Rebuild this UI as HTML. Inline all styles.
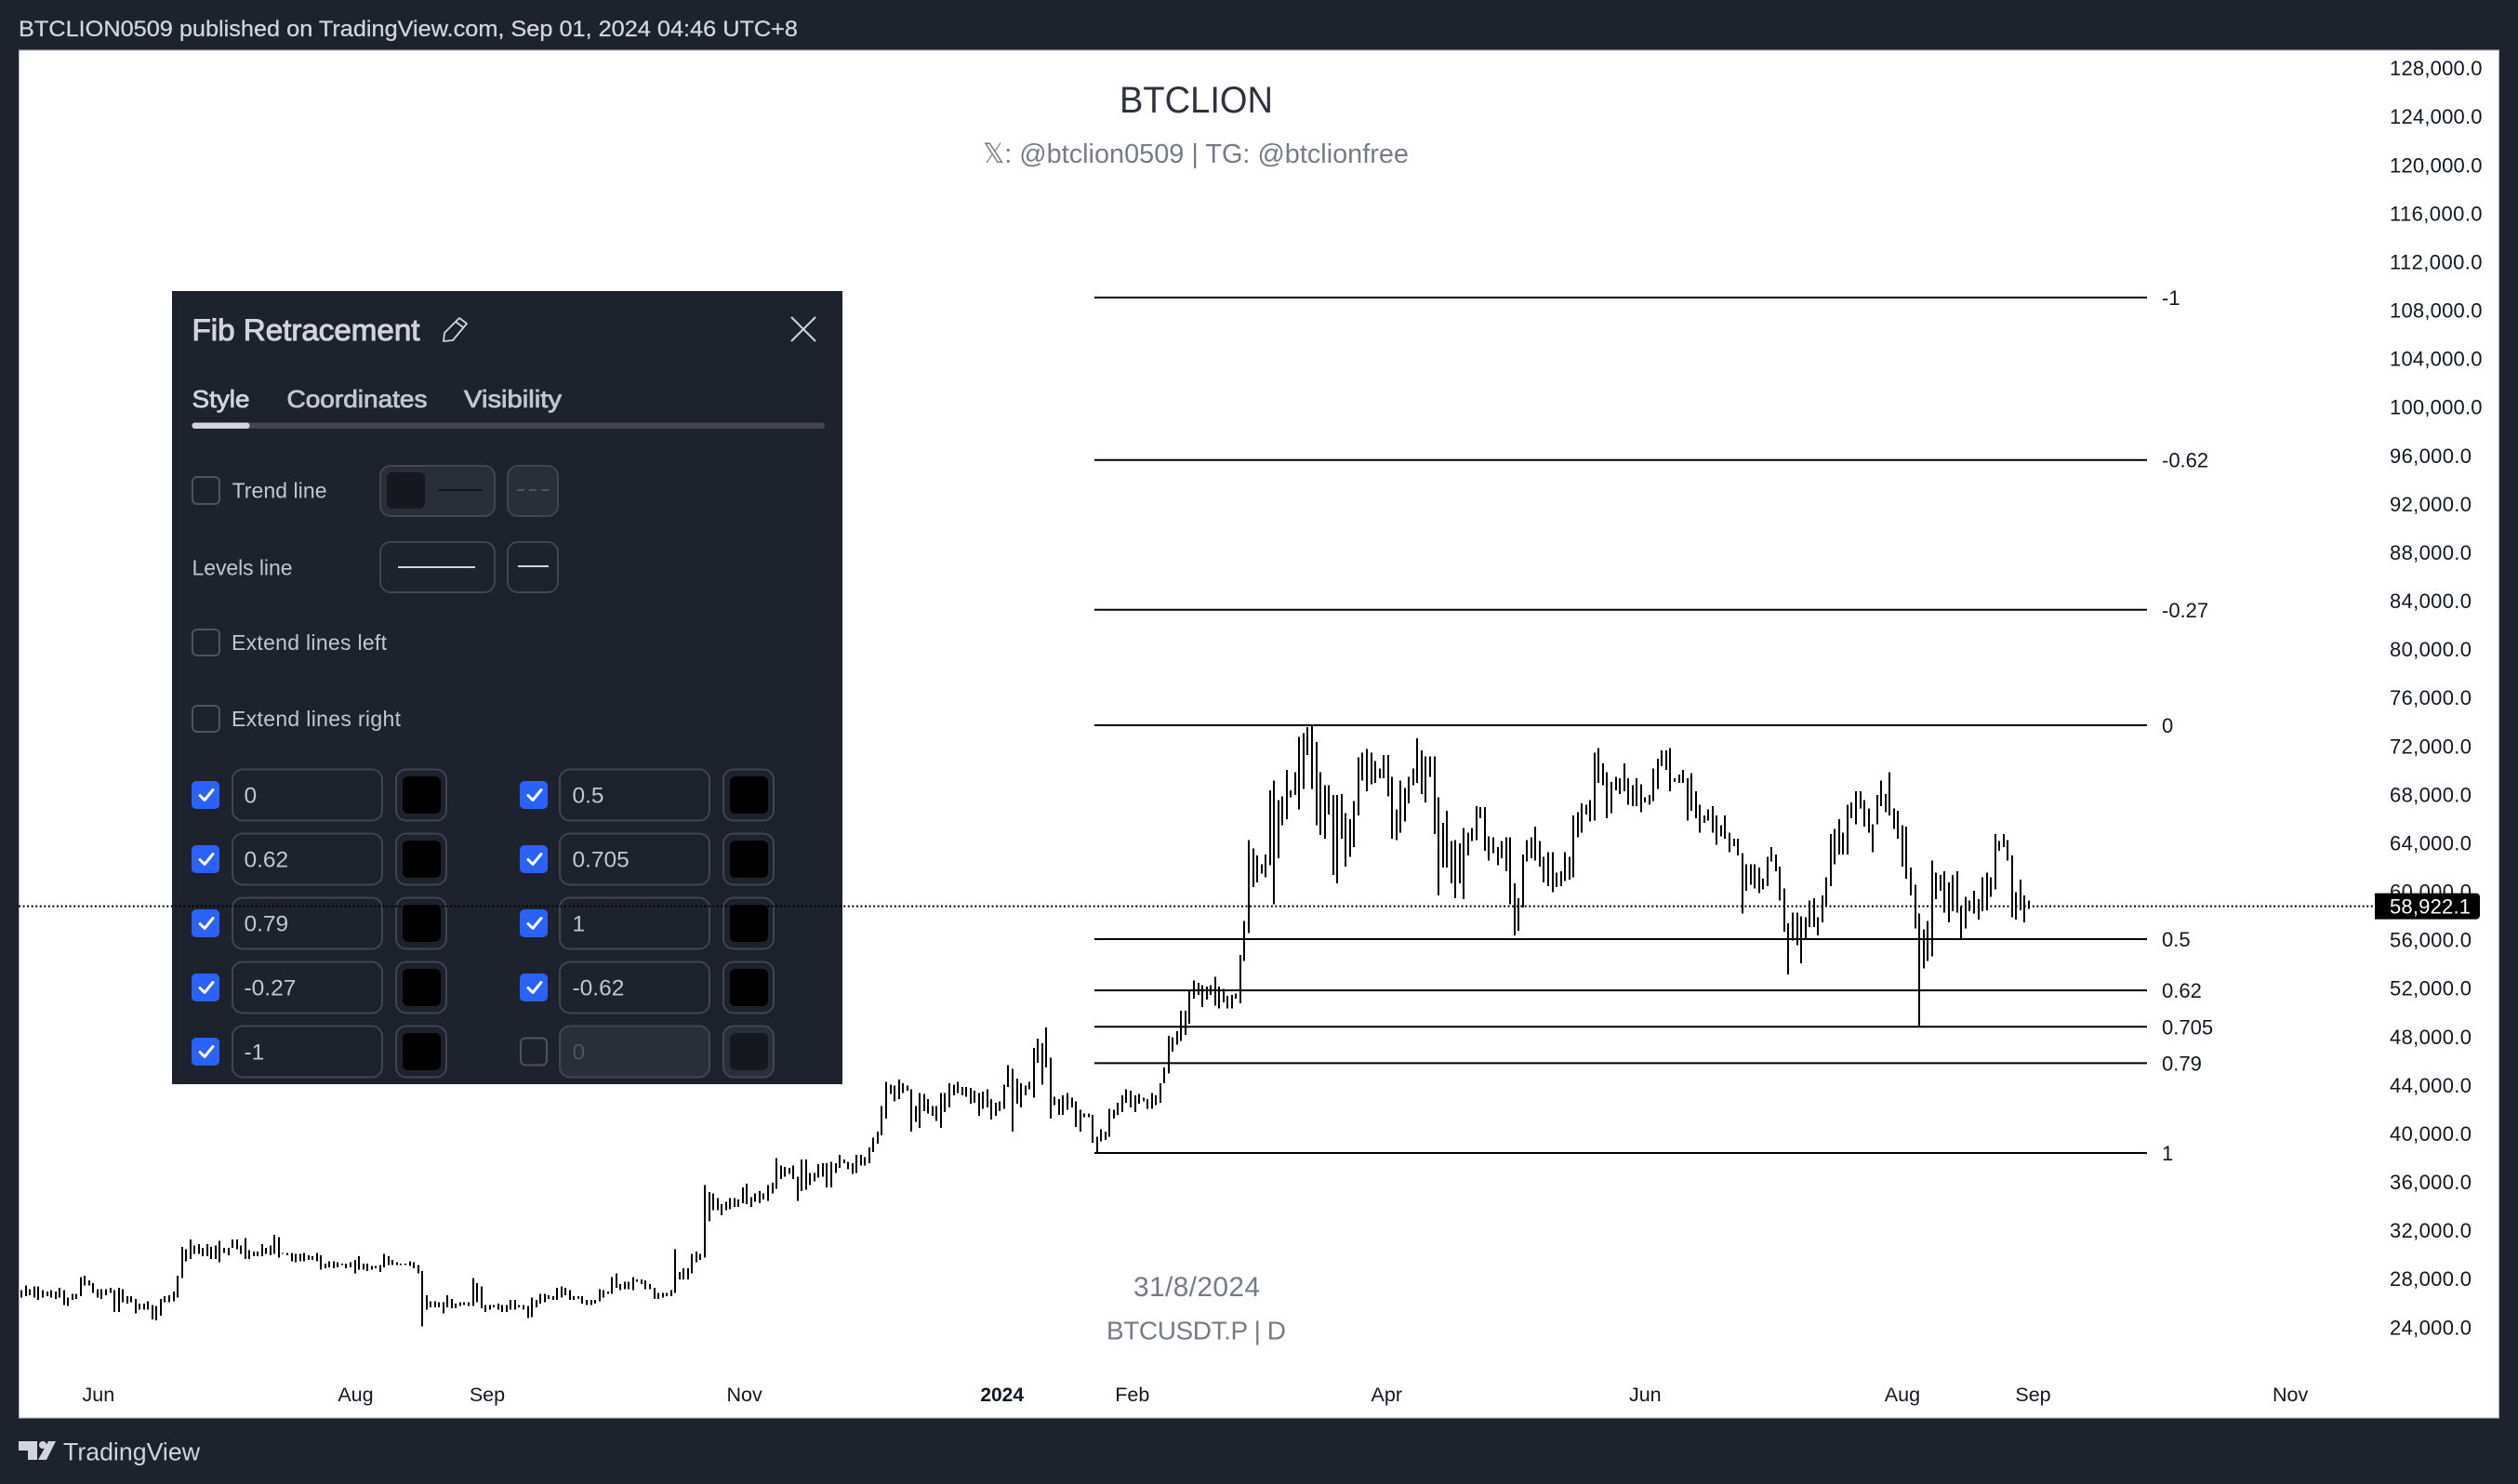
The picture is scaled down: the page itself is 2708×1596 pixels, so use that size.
<!DOCTYPE html>
<html lang="en">
<head>
<meta charset="utf-8">
<title>BTCUSDT.P Fib Retracement chart</title>
<style>
html,body{margin:0;padding:0;background:#1e222d;width:2708px;height:1596px;overflow:hidden}
svg{display:block}
text{font-family:"Liberation Sans","DejaVu Sans",sans-serif}
.lbl{font-size:23px;fill:#c3c6ce}
.val{font-size:24.5px;fill:#c3c6ce}
.box{fill:none;stroke:#434651;stroke-width:2}
.sw{fill:#1e222d;stroke:#434651;stroke-width:2}
.chk{fill:#2962ff}
.tick{fill:none;stroke:#fff;stroke-width:3;stroke-linecap:round;stroke-linejoin:round}
.un{fill:none;stroke:#50535e;stroke-width:2}
</style>
</head>
<body>
<svg id="chart" xmlns="http://www.w3.org/2000/svg" width="2708" height="1596" viewBox="0 0 2708 1596">
  <rect x="0" y="0" width="2708" height="1596" fill="#1e222d"/>
  <text x="20" y="39" font-size="24.5" fill="#d1d4dc" stroke="#d1d4dc" stroke-width=".3" textLength="838" lengthAdjust="spacingAndGlyphs">BTCLION0509 published on TradingView.com, Sep 01, 2024 04:46 UTC+8</text>
  <rect x="20.5" y="54" width="2667" height="1471" fill="#ffffff" stroke="#b2b5be" stroke-width="1"/>

  <text x="1286.5" y="121" font-size="40" fill="#2f323c" text-anchor="middle" textLength="165" lengthAdjust="spacingAndGlyphs">BTCLION</text>
  <text x="1286" y="175" font-size="29" fill="#787b86" text-anchor="middle" textLength="458" lengthAdjust="spacingAndGlyphs">𝕏: @btclion0509 | TG: @btclionfree</text>
  <text x="1287" y="1394" font-size="30" fill="#787b86" text-anchor="middle" textLength="136">31/8/2024</text>
  <text x="1286.5" y="1440.5" font-size="28" fill="#787b86" text-anchor="middle" textLength="193">BTCUSDT.P | D</text>

  <g id="candles" shape-rendering="crispEdges"></g>
  <g id="fibs"></g>
  <g id="yaxis"></g>
  <g id="xaxis"></g>

  <g>
    <rect x="185" y="313" width="721" height="853" fill="#1e222d"/>
    <text x="206.5" y="366" font-size="32" fill="#d1d4dc" stroke="#d1d4dc" stroke-width="1" textLength="245" lengthAdjust="spacingAndGlyphs">Fib Retracement</text>
    <g fill="none" stroke="#d1d4dc" stroke-width="1.8" stroke-linejoin="round">
      <path d="M494 342l8 6-15 18-10 1 1-9z"/><path d="M490 346l8 6"/>
    </g>
    <g stroke="#d1d4dc" stroke-width="2">
      <line x1="851" y1="341" x2="877" y2="367"/><line x1="877" y1="341" x2="851" y2="367"/>
    </g>
    <text x="206.5" y="438" font-size="26" fill="#d1d4dc" stroke="#d1d4dc" stroke-width=".8" textLength="62" lengthAdjust="spacingAndGlyphs">Style</text>
    <text x="308.5" y="438" font-size="26" fill="#c3c6ce" stroke="#c3c6ce" stroke-width=".8" textLength="151" lengthAdjust="spacingAndGlyphs">Coordinates</text>
    <text x="499" y="438" font-size="26" fill="#c3c6ce" stroke="#c3c6ce" stroke-width=".8" textLength="105" lengthAdjust="spacingAndGlyphs">Visibility</text>
    <rect x="206.5" y="454.5" width="680.5" height="6.5" rx="3" fill="#434651"/>
    <rect x="206.5" y="454.5" width="62" height="6.5" rx="3" fill="#d1d4dc"/>

    <rect class="un" x="207" y="513" width="29" height="29" rx="5"/>
    <text class="lbl" x="249.5" y="535.5" textLength="102">Trend line</text>
    <g>
      <rect x="409" y="501" width="123" height="54" rx="11" fill="#2a2e39" stroke="#434651" stroke-width="2"/>
      <rect x="416" y="508" width="41" height="39" rx="6" fill="#16181f"/>
      <line x1="471" y1="527" x2="519" y2="527" stroke="#16181f" stroke-width="2"/>
    </g>
    <g>
      <rect x="546" y="501" width="54" height="54" rx="11" fill="#2a2e39" stroke="#434651" stroke-width="2"/>
      <line x1="556" y1="527" x2="593" y2="527" stroke="#50535e" stroke-width="2" stroke-dasharray="8 5"/>
    </g>

    <text class="lbl" x="206.5" y="618.5" textLength="108">Levels line</text>
    <g>
      <rect class="box" x="409" y="583" width="123" height="54" rx="11"/>
      <line x1="428" y1="610" x2="511" y2="610" stroke="#d1d4dc" stroke-width="2"/>
    </g>
    <g>
      <rect class="box" x="546" y="583" width="54" height="54" rx="11"/>
      <line x1="557" y1="609" x2="590" y2="609" stroke="#d1d4dc" stroke-width="2"/>
    </g>

    <rect class="un" x="207" y="677" width="29" height="28" rx="5"/>
    <text class="lbl" x="249" y="699" textLength="167">Extend lines left</text>
    <rect class="un" x="207" y="759" width="29" height="28" rx="5"/>
    <text class="lbl" x="249" y="781" textLength="182">Extend lines right</text>

    <g transform="translate(0,-1.5)">
    <!-- level rows, left column -->
    <g>
      <rect class="chk" x="206" y="841.5" width="30" height="30" rx="5"/><polyline class="tick" points="215,857 220,862 229,851"/>
      <rect class="box" x="250" y="829" width="161" height="55" rx="11"/><text class="val" x="262.5" y="865">0</text>
      <rect class="sw" x="426" y="829" width="54" height="55" rx="11"/><rect x="433" y="836.5" width="41" height="40" rx="6" fill="#000"/>
    </g>
    <g>
      <rect class="chk" x="206" y="910.5" width="30" height="30" rx="5"/><polyline class="tick" points="215,926 220,931 229,920"/>
      <rect class="box" x="250" y="898" width="161" height="55" rx="11"/><text class="val" x="262.5" y="934">0.62</text>
      <rect class="sw" x="426" y="898" width="54" height="55" rx="11"/><rect x="433" y="905.5" width="41" height="40" rx="6" fill="#000"/>
    </g>
    <g>
      <rect class="chk" x="206" y="979.5" width="30" height="30" rx="5"/><polyline class="tick" points="215,995 220,1000 229,989"/>
      <rect class="box" x="250" y="967" width="161" height="55" rx="11"/><text class="val" x="262.5" y="1003">0.79</text>
      <rect class="sw" x="426" y="967" width="54" height="55" rx="11"/><rect x="433" y="974.5" width="41" height="40" rx="6" fill="#000"/>
    </g>
    <g>
      <rect class="chk" x="206" y="1048.5" width="30" height="30" rx="5"/><polyline class="tick" points="215,1064 220,1069 229,1058"/>
      <rect class="box" x="250" y="1036" width="161" height="55" rx="11"/><text class="val" x="262.5" y="1072">-0.27</text>
      <rect class="sw" x="426" y="1036" width="54" height="55" rx="11"/><rect x="433" y="1043.5" width="41" height="40" rx="6" fill="#000"/>
    </g>
    <g>
      <rect class="chk" x="206" y="1117.5" width="30" height="30" rx="5"/><polyline class="tick" points="215,1133 220,1138 229,1127"/>
      <rect class="box" x="250" y="1105" width="161" height="55" rx="11"/><text class="val" x="262.5" y="1141">-1</text>
      <rect class="sw" x="426" y="1105" width="54" height="55" rx="11"/><rect x="433" y="1112.5" width="41" height="40" rx="6" fill="#000"/>
    </g>
    <!-- level rows, right column -->
    <g>
      <rect class="chk" x="559" y="841.5" width="30" height="30" rx="5"/><polyline class="tick" points="568,857 573,862 582,851"/>
      <rect class="box" x="602" y="829" width="161" height="55" rx="11"/><text class="val" x="615.5" y="865">0.5</text>
      <rect class="sw" x="778" y="829" width="54" height="55" rx="11"/><rect x="785" y="836.5" width="41" height="40" rx="6" fill="#000"/>
    </g>
    <g>
      <rect class="chk" x="559" y="910.5" width="30" height="30" rx="5"/><polyline class="tick" points="568,926 573,931 582,920"/>
      <rect class="box" x="602" y="898" width="161" height="55" rx="11"/><text class="val" x="615.5" y="934">0.705</text>
      <rect class="sw" x="778" y="898" width="54" height="55" rx="11"/><rect x="785" y="905.5" width="41" height="40" rx="6" fill="#000"/>
    </g>
    <g>
      <rect class="chk" x="559" y="979.5" width="30" height="30" rx="5"/><polyline class="tick" points="568,995 573,1000 582,989"/>
      <rect class="box" x="602" y="967" width="161" height="55" rx="11"/><text class="val" x="615.5" y="1003">1</text>
      <rect class="sw" x="778" y="967" width="54" height="55" rx="11"/><rect x="785" y="974.5" width="41" height="40" rx="6" fill="#000"/>
    </g>
    <g>
      <rect class="chk" x="559" y="1048.5" width="30" height="30" rx="5"/><polyline class="tick" points="568,1064 573,1069 582,1058"/>
      <rect class="box" x="602" y="1036" width="161" height="55" rx="11"/><text class="val" x="615.5" y="1072">-0.62</text>
      <rect class="sw" x="778" y="1036" width="54" height="55" rx="11"/><rect x="785" y="1043.5" width="41" height="40" rx="6" fill="#000"/>
    </g>
    <g>
      <rect class="un" x="560" y="1118" width="28" height="29" rx="5"/>
      <rect x="602" y="1105" width="161" height="55" rx="11" fill="#2a2e39" stroke="#434651" stroke-width="2"/><text x="615.5" y="1141" font-size="24.5" fill="#50535e">0</text>
      <rect x="778" y="1105" width="54" height="55" rx="11" fill="#2a2e39" stroke="#434651" stroke-width="2"/><rect x="785" y="1112.5" width="41" height="40" rx="6" fill="#16181f"/>
    </g>
    </g>
  </g>

  <g id="lastprice"></g>

  <g fill="#d1d4dc">
    <path d="M20 1550h20v20h-10v-10h-10z"/>
    <circle cx="46" cy="1554" r="4"/>
    <path d="M52 1550h8l-10 20h-9z"/>
  </g>
  <text x="68" y="1570.5" font-size="27" fill="#d1d4dc" textLength="147" lengthAdjust="spacingAndGlyphs">TradingView</text>
</svg>

<script>
// Daily candles in thousands of USDT (Jun 2023 – 31 Aug 2024)
var highs = [
27.2,27.6,27.3,27.5,27.5,27.2,27.1,27.2,27.1,27.4,
27.2,26.6,26.9,26.9,28.3,28.4,28.0,27.8,27.3,27.3,
27.3,27.4,27.2,27.4,27.3,26.7,26.7,26.5,26.1,26.1,
26.3,26.0,25.9,26.5,26.7,26.8,27.1,28.4,30.8,30.6,
31.4,30.9,31.0,30.7,31.0,30.8,30.9,31.3,30.7,30.7,
31.4,31.4,30.9,31.5,30.5,30.4,30.4,31.0,30.7,30.9,
31.8,31.6,30.3,30.3,30.3,30.2,30.2,30.3,30.1,30.0,
30.3,30.1,29.4,29.6,29.6,29.5,29.4,29.4,29.5,29.7,
30.0,29.4,29.4,29.2,29.2,29.3,30.2,30.0,29.7,29.5,
29.4,29.4,29.6,29.5,29.3,28.8,26.8,26.3,26.3,26.2,
26.2,26.8,26.5,26.1,26.2,26.2,26.2,28.2,27.8,27.5,
26.0,26.0,26.0,26.1,26.0,26.0,26.4,26.4,26.0,26.0,
25.9,26.6,26.4,26.9,26.9,26.8,26.7,27.4,27.5,27.4,
27.2,26.7,26.7,26.7,26.4,26.4,26.4,27.3,27.2,27.1,
28.3,28.6,27.7,27.9,27.9,28.3,28.1,28.1,28.0,27.7,
27.4,27.0,27.0,27.0,27.2,30.6,28.7,29.0,29.0,30.2,
30.4,30.2,35.9,35.3,35.2,34.8,34.3,34.5,34.8,34.8,
34.7,35.7,36.0,34.9,35.2,35.4,35.2,35.9,36.1,38.1,
37.5,37.4,37.3,37.5,36.6,38.0,38.0,36.9,36.9,37.6,
37.7,37.7,37.8,37.7,38.4,38.0,37.8,37.7,38.4,38.4,
38.2,39.0,39.8,40.3,42.4,44.4,44.2,44.1,44.6,44.3,
44.1,43.8,42.4,43.5,43.4,43.0,42.4,42.4,43.5,43.5,
44.3,44.2,44.4,44.0,44.0,43.9,43.7,43.5,43.6,43.8,
43.0,42.7,42.8,44.2,45.8,45.5,44.7,44.3,44.1,44.4,
47.2,48.0,47.6,48.9,46.4,43.2,43.0,43.3,43.5,43.1,
42.8,42.1,41.8,41.8,41.7,39.9,40.5,40.3,42.2,42.1,
42.7,43.3,43.8,43.7,43.3,43.4,43.1,43.0,43.5,43.3,
44.3,45.6,48.2,48.1,48.6,50.3,50.3,52.0,52.8,52.6,
52.4,52.3,52.4,53.1,52.3,52.1,51.5,51.6,51.7,54.9,
57.7,64.4,63.7,63.1,62.4,63.2,68.5,69.3,67.7,68.0,
70.2,68.5,70.0,72.9,73.2,73.7,73.87,72.5,70.0,68.9,
68.9,68.1,68.1,68.2,66.6,66.1,67.6,71.2,71.6,71.9,
71.6,70.9,70.3,71.4,71.4,69.6,66.9,69.3,68.7,69.6,
70.3,72.8,71.8,71.3,71.3,71.3,67.9,65.8,66.8,64.3,
64.4,64.1,65.4,65.0,65.4,67.2,67.1,67.1,64.7,64.6,
63.8,64.3,64.6,64.6,60.8,59.6,63.2,64.4,64.6,65.5,
64.3,63.0,63.4,63.4,61.7,61.8,63.4,63.0,66.4,66.7,
67.4,67.3,67.7,71.6,72.0,70.7,70.0,69.2,69.6,69.5,
70.7,69.5,68.9,69.5,69.0,67.9,68.1,70.3,71.1,71.8,
71.8,72.0,69.5,69.8,70.2,69.5,69.9,68.4,67.3,66.4,
66.9,67.2,66.4,65.6,66.4,65.0,64.5,64.5,63.3,62.4,
62.4,62.4,62.1,61.2,63.0,63.8,63.2,62.2,60.4,57.5,
58.4,58.4,58.1,58.0,59.4,59.6,58.0,59.8,61.3,64.9,
65.3,66.1,65.0,67.3,67.5,68.4,68.4,67.7,67.0,65.7,
68.1,69.3,68.2,70.0,67.0,66.8,65.6,65.5,62.1,60.7,
58.3,57.0,57.7,62.7,61.7,61.5,61.8,60.9,61.5,61.8,
58.9,59.7,59.4,60.2,59.5,61.3,61.7,61.3,64.9,64.3,
64.9,64.4,63.1,60.1,61.1,59.8,59.4];
var opens = [
27.0,27.2,27.2,27.4,27.4,27.0,27.1,27.1,27.0,27.2,
27.1,26.5,26.6,26.8,28.0,28.0,27.8,27.7,27.2,27.2,
27.2,27.2,27.1,27.3,27.3,26.5,26.5,26.5,25.9,25.9,
26.0,25.8,25.6,26.3,26.5,26.5,26.8,28.3,30.0,30.1,
30.7,30.8,30.8,30.5,30.7,30.7,30.7,30.5,30.6,30.7,
31.2,31.2,30.8,30.5,30.3,30.3,30.3,30.4,30.6,30.5,
31.3,31.5,30.3,30.3,30.2,30.1,30.1,30.0,30.0,29.9,
30.0,30.1,29.2,29.4,29.4,29.4,29.4,29.4,29.4,29.6,
29.7,29.3,29.3,29.2,29.2,29.3,29.8,29.7,29.6,29.4,
29.4,29.4,29.5,29.4,29.2,28.7,26.6,26.2,26.2,26.2,
26.1,26.5,26.4,26.1,26.1,26.1,26.1,27.8,27.7,27.3,
25.9,25.8,26.0,26.0,25.9,25.9,26.3,26.4,25.9,25.9,
25.8,25.9,26.2,26.5,26.6,26.6,26.6,27.3,27.2,27.3,
27.1,26.6,26.6,26.6,26.4,26.3,26.4,27.0,27.1,27.0,
27.9,27.9,27.5,27.7,27.7,27.9,28.0,28.0,27.9,27.5,
27.3,26.9,26.9,26.9,27.1,28.5,28.6,28.6,28.7,29.6,
29.8,30.1,33.1,33.9,34.5,34.3,34.2,34.1,34.6,34.6,
34.6,35.3,35.4,34.9,35.1,35.2,35.2,35.3,35.6,36.7,
37.3,37.3,37.2,37.1,36.5,37.9,37.9,36.6,36.7,37.5,
37.5,37.4,37.4,37.5,37.7,37.9,37.7,37.5,37.8,37.9,
38.0,38.7,39.4,40.0,42.0,44.0,44.0,43.7,43.8,44.1,
43.9,43.7,41.5,42.8,43.0,42.9,42.3,42.3,42.7,42.7,
43.6,43.9,44.0,43.9,43.9,43.7,43.5,43.5,43.3,43.4,
42.6,42.2,42.3,44.1,44.9,44.9,44.0,44.1,44.0,44.0,
47.0,47.0,46.6,46.6,46.3,42.8,42.7,42.5,43.0,43.0,
42.8,41.7,41.7,41.7,41.6,39.9,40.1,40.1,41.7,42.0,
42.1,43.2,43.2,42.9,43.0,43.2,43.1,42.9,42.8,42.9,
44.3,45.2,47.0,47.7,48.2,49.9,49.9,51.7,52.0,52.0,
52.1,52.0,52.1,52.2,52.2,52.0,51.3,51.6,51.6,54.4,
57.0,62.4,62.3,62.3,62.3,63.1,68.2,68.2,66.1,66.8,
68.1,68.4,68.9,72.1,72.1,73.1,73.1,71.4,69.5,68.4,
68.4,67.7,67.8,67.8,65.5,63.9,67.2,69.9,70.1,70.0,
70.8,70.8,69.9,71.3,71.3,69.6,65.9,68.5,68.4,68.9,
69.3,71.6,71.7,70.7,70.7,70.0,67.1,65.5,65.5,63.7,
63.7,63.4,63.4,64.9,65.0,66.7,66.7,66.3,64.4,64.4,
63.7,63.3,63.8,63.8,60.6,58.9,62.9,63.8,64.0,63.9,
63.1,62.3,63.1,63.1,60.8,61.4,62.9,63.0,66.2,65.9,
67.0,67.0,66.9,71.4,71.4,70.1,69.2,68.5,69.2,69.2,
69.5,69.5,68.4,68.3,68.3,67.8,67.9,68.8,70.5,71.1,
71.1,70.8,69.4,69.6,69.6,69.5,68.3,68.3,66.7,66.2,
66.6,66.6,66.4,65.1,65.0,64.8,64.3,64.1,63.2,61.7,
61.7,61.6,61.6,60.9,62.7,62.9,62.8,62.0,60.1,57.0,
58.2,58.2,58.1,58.0,58.0,57.7,57.7,59.1,60.7,64.7,
64.9,65.0,64.1,66.6,67.1,68.1,68.1,67.5,65.8,65.7,
67.9,67.9,68.2,68.2,66.7,66.1,65.3,65.3,61.3,60.6,
58.1,56.0,56.0,61.6,61.6,60.9,60.9,59.2,60.5,60.5,
58.6,58.6,59.4,59.4,59.4,59.3,59.3,61.0,63.9,64.2,
64.2,64.3,62.8,59.3,59.2,59.2,59.0];
var closes = [
26.8,26.8,26.8,26.7,26.6,26.8,26.8,26.7,26.7,26.8,
26.3,26.2,26.5,26.6,26.8,27.7,27.7,27.1,26.7,26.8,
26.9,27.1,25.7,25.7,26.4,26.3,26.4,25.7,25.8,25.8,
25.8,25.1,25.0,25.5,26.2,26.3,26.3,26.8,28.2,29.9,
29.8,30.7,30.7,30.1,30.2,30.0,30.0,30.4,30.5,30.6,
30.7,30.7,30.3,29.8,29.8,30.3,30.0,30.0,30.3,30.2,
30.3,30.3,30.2,30.2,30.1,29.7,29.8,29.9,29.8,29.9,
29.8,29.1,29.1,29.2,29.2,29.2,29.3,29.3,29.2,29.1,
29.1,29.1,29.1,29.1,29.1,29.2,29.2,29.4,29.4,29.3,
29.3,29.3,29.3,29.1,28.7,26.5,25.9,25.9,26.1,26.1,
26.0,25.9,25.9,25.9,26.0,26.0,26.0,26.0,27.1,25.9,
25.7,25.8,25.9,25.8,25.8,25.7,25.6,25.7,25.9,25.8,
25.0,25.1,25.8,26.2,26.4,26.5,26.5,26.4,26.7,27.1,
26.5,26.5,26.5,26.2,26.3,26.2,26.2,26.3,26.9,27.0,
26.9,27.5,27.4,27.4,27.4,27.3,27.9,27.9,27.4,27.4,
26.6,26.8,26.8,26.8,26.8,27.1,28.5,28.4,28.3,28.7,
29.5,29.8,29.9,33.0,33.9,34.1,33.8,33.8,34.0,34.5,
34.5,34.6,34.8,34.8,34.7,34.7,35.1,35.1,35.3,35.6,
36.7,37.1,37.1,36.5,35.5,35.5,36.1,36.2,36.5,36.5,
37.4,35.7,35.7,37.4,37.3,37.7,37.5,37.1,37.2,37.8,
37.8,37.7,38.7,39.4,40.0,42.0,43.7,43.2,43.2,43.7,
43.7,41.3,41.3,41.5,42.7,41.9,41.8,41.3,41.3,42.3,
42.3,43.5,43.8,43.7,43.6,42.8,42.8,42.5,42.4,42.5,
42.1,42.1,42.1,42.3,44.1,42.7,42.7,44.0,44.0,43.9,
43.9,46.0,46.0,46.2,42.7,42.7,41.7,41.7,42.5,42.6,
41.3,41.3,41.6,41.6,39.4,39.4,40.0,40.0,39.9,41.7,
42.0,42.0,42.8,42.5,42.5,43.1,42.9,42.4,42.7,42.6,
42.9,44.3,45.2,47.0,47.6,48.1,49.5,49.5,51.7,51.7,
51.6,51.6,51.8,51.7,51.8,51.1,50.6,50.6,51.5,51.6,
54.4,57.0,61.1,61.1,61.9,62.0,63.1,63.7,63.7,66.1,
66.8,68.0,68.3,68.9,71.4,71.4,71.4,69.5,65.2,65.2,
67.6,61.9,61.9,65.5,63.8,63.8,63.9,67.2,70.0,69.5,
69.5,69.8,69.6,69.6,69.6,65.4,65.4,65.9,67.8,67.8,
68.9,69.3,69.1,69.1,70.0,67.1,63.8,63.8,63.3,63.3,
61.1,61.1,61.1,63.7,64.9,64.9,66.3,64.1,64.1,63.7,
63.2,63.0,63.0,60.6,58.3,58.3,58.9,62.9,63.6,63.1,
62.2,61.1,61.1,60.8,60.7,60.8,61.4,61.4,61.4,65.2,
65.1,66.9,66.1,66.1,70.1,69.2,67.9,67.9,68.5,68.5,
68.4,68.4,67.6,67.6,67.6,67.5,67.7,67.7,68.8,70.5,
70.8,69.3,69.3,69.3,69.5,67.2,67.2,66.7,66.1,66.0,
66.4,66.4,65.1,64.7,64.9,64.1,64.1,63.2,60.2,60.2,
60.8,60.7,60.3,60.3,60.8,62.8,62.0,60.1,56.9,56.5,
56.2,55.7,55.7,56.7,57.7,57.2,57.2,57.7,59.1,60.7,
64.5,63.9,63.9,63.9,66.4,67.1,67.5,65.8,65.3,65.3,
65.7,67.8,67.8,67.0,66.1,64.5,64.5,61.3,60.7,58.1,
53.8,53.8,55.0,55.0,60.8,60.8,58.6,58.6,58.6,58.8,
57.4,57.4,58.8,58.8,58.4,58.9,58.8,60.3,60.3,64.0,
64.0,62.8,59.3,58.9,59.0,59.0,58.9];
var lows = [
26.6,26.7,26.8,26.6,26.4,26.6,26.7,26.6,26.5,26.6,
26.0,25.9,26.4,26.5,26.7,27.6,27.6,27.0,26.6,26.5,
26.8,27.0,25.4,25.4,26.2,26.1,26.2,25.3,25.6,25.6,
25.6,24.8,24.7,25.1,26.2,26.2,26.3,26.6,28.2,29.6,
29.8,30.2,30.2,30.0,30.0,29.8,29.8,29.5,30.3,30.1,
30.7,30.6,30.2,29.8,29.8,30.0,30.0,30.0,30.2,30.1,
30.2,29.9,30.2,30.1,29.6,29.5,29.6,29.6,29.7,29.7,
29.6,28.9,29.0,29.1,29.0,29.1,29.3,29.0,29.1,28.6,
28.9,28.9,28.8,28.9,29.0,28.7,29.1,29.3,29.3,29.3,
29.3,29.3,29.2,29.0,28.6,24.2,25.6,25.8,25.8,25.8,
25.3,25.8,25.7,25.7,25.9,26.0,25.9,25.9,26.2,25.7,
25.4,25.6,25.8,25.6,25.4,25.4,25.6,25.6,25.8,25.6,
24.9,25.0,25.8,26.1,26.2,26.5,26.4,26.4,26.6,26.8,
26.4,26.4,26.5,26.1,26.0,26.0,26.1,26.3,26.6,26.9,
26.9,27.4,27.2,27.3,27.3,27.2,27.9,27.7,27.3,27.3,
26.5,26.5,26.6,26.7,26.7,27.0,28.1,28.1,28.1,28.6,
29.5,29.7,29.9,32.9,33.8,33.8,33.4,33.8,33.9,34.1,
34.1,34.4,34.3,34.1,34.5,34.4,34.7,34.6,35.2,35.6,
36.4,36.6,36.8,36.4,34.6,35.4,35.5,35.9,36.2,36.5,
36.6,35.7,35.7,36.9,37.3,37.7,37.2,36.8,36.9,37.5,
37.5,37.7,38.6,39.3,40.0,41.4,43.4,42.8,43.0,43.5,
43.7,40.3,41.1,40.6,42.0,41.8,41.6,41.2,40.6,41.9,
42.3,43.3,43.5,43.3,43.2,42.6,42.7,41.6,42.2,42.3,
41.3,41.6,42.0,42.2,44.0,40.3,42.6,42.3,43.3,43.8,
43.1,46.0,44.2,45.6,41.4,42.5,41.7,41.7,42.1,42.3,
40.7,40.3,41.5,41.5,39.4,38.5,39.5,39.6,39.9,41.4,
41.7,41.9,42.7,42.3,41.9,42.6,42.8,42.2,42.2,42.5,
42.7,44.3,45.1,46.9,47.5,47.8,48.3,49.2,51.3,51.6,
50.6,51.2,51.6,50.7,50.5,51.0,50.5,50.5,51.3,50.9,
54.4,56.7,60.5,60.9,61.6,61.3,62.3,59.1,62.9,65.6,
66.1,67.9,68.1,66.9,68.6,71.4,68.6,65.6,64.8,64.5,
66.5,61.5,60.8,64.5,62.2,63.0,63.8,66.4,69.3,68.4,
69.0,69.1,69.5,69.5,68.0,64.5,64.4,65.0,65.9,67.4,
68.9,69.1,68.2,67.5,69.6,64.9,59.8,62.1,62.1,60.8,
59.6,60.8,59.5,63.1,64.3,64.4,66.2,63.5,62.7,63.3,
62.3,62.9,61.8,59.1,56.5,56.9,58.8,62.6,62.9,62.7,
62.2,60.9,60.6,60.1,60.5,60.6,61.0,61.1,61.3,64.6,
65.0,66.5,65.9,66.0,69.1,68.9,66.2,66.6,68.5,68.2,
68.4,67.3,67.2,67.2,66.7,67.5,67.3,67.6,68.6,70.5,
70.2,68.4,69.2,69.1,69.1,66.0,66.8,66.2,65.0,65.8,
66.0,65.0,64.0,64.7,64.5,63.4,63.9,63.1,58.3,60.2,
60.7,60.4,60.0,60.3,60.6,62.6,61.8,59.4,56.8,53.3,
56.1,55.7,54.2,56.2,57.2,57.2,56.5,57.6,59.0,60.6,
62.4,63.2,63.2,63.2,66.2,65.7,67.0,65.5,65.0,63.4,
65.7,67.2,66.7,66.4,65.3,64.5,62.2,61.2,59.8,57.1,
49.0,53.8,54.4,54.8,59.5,60.2,58.4,57.6,58.5,58.4,
56.2,57.1,58.5,58.3,57.8,58.5,58.6,59.7,60.3,63.5,
63.8,62.7,58.0,57.8,58.6,57.6,58.7];

var priceTicks = [128000,124000,120000,116000,112000,108000,104000,100000,96000,92000,88000,84000,80000,76000,72000,68000,64000,60000,56000,52000,48000,44000,40000,36000,32000,28000,24000];
var timeLabels = ['Jun','Aug','Sep','Nov','2024','Feb','Apr','Jun','Aug','Sep','Nov'];
var timeTickIndex = [18.2,79.2,110.4,171.4,232.5,263.4,323.7,385,446,477,538];
var fibRatios = [-1,-0.62,-0.27,0,0.5,0.62,0.705,0.79,1];
var fibLabels = ['-1','-0.62','-0.27','0','0.5','0.62','0.705','0.79','1'];
var fibHighPrice = 73.87;
var fibLowPrice = 38.54;
var lastPrice = 58.9221;

var SVGNS = 'http://www.w3.org/2000/svg';
function xScale(i){ return 23.3 + i * 4.535; }
function yScale(k){ return 974.6 + (58.922 - k) / 0.0768; }
function make(tag, parent, attrs){
  var el = document.createElementNS(SVGNS, tag);
  for (var a in attrs) el.setAttribute(a, attrs[a]);
  parent.appendChild(el);
  return el;
}

// candles
var candleGroup = document.getElementById('candles');
var candleCount = Math.min(highs.length, lows.length, opens.length, closes.length);
for (var i = 0; i < candleCount; i++) {
  var cx = xScale(i);
  var g = make('g', candleGroup, {});
  
  
  make('rect', g, {x: Math.round(cx - 1), y: yScale(highs[i]), width: 2, height: Math.max(1, yScale(lows[i]) - yScale(highs[i])), fill: '#000'});
  var top = yScale(Math.max(opens[i], closes[i]));
  var bot = yScale(Math.min(opens[i], closes[i]));
  make('rect', g, {x: Math.round(cx - 2.5), y: top, width: 5, height: Math.max(3, bot - top), fill: '#000'});
}

// fib levels
var fibGroup = document.getElementById('fibs');
fibRatios.forEach(function(r, idx){
  var y = yScale(fibHighPrice - (fibHighPrice - fibLowPrice) * r);
  var line = make('line', fibGroup, {x1: 1177, x2: 2309, y1: y, y2: y, stroke: '#000', 'stroke-width': 2});
  
  
  var t = make('text', fibGroup, {x: 2325, y: y + 8, 'font-size': 22, fill: '#131722'});
  
  
  t.textContent = fibLabels[idx];
});

// price axis
var yAxis = document.getElementById('yaxis');
priceTicks.forEach(function(v){
  var t = make('text', yAxis, {x: 2570, y: yScale(v / 1000) + 6, 'font-size': 22, fill: '#131722', textLength: v >= 100000 ? 99.5 : 88});
  
  
  t.textContent = v.toLocaleString('en-US') + '.0';
});

// time axis
var xAxis = document.getElementById('xaxis');
timeLabels.forEach(function(label, idx){
  var isYear = label === '2024';
  var t = make('text', xAxis, {x: xScale(timeTickIndex[idx]), y: 1507, 'font-size': isYear ? 21 : 21.5, fill: '#131722', 'text-anchor': 'middle', 'font-weight': isYear ? 'bold' : 'normal'});
  
  
  t.textContent = label;
});

// last price line and label
var lastGroup = document.getElementById('lastprice');
var ly = yScale(lastPrice);
var dotted = make('line', lastGroup, {x1: 20, x2: 2554, y1: ly, y2: ly, stroke: '#000', 'stroke-width': 2, 'stroke-dasharray': '2 2.55'});


var tag = make('path', lastGroup, {d: 'M2554 ' + (ly - 14) + 'h109a4 4 0 0 1 4 4v20a4 4 0 0 1-4 4h-109z', fill: '#000'});


var tagText = make('text', lastGroup, {x: 2570, y: ly + 8, 'font-size': 22, fill: '#fff', textLength: 87});


tagText.textContent = (lastPrice * 1000).toLocaleString('en-US', {minimumFractionDigits: 1, maximumFractionDigits: 1});
</script>
</body>
</html>
